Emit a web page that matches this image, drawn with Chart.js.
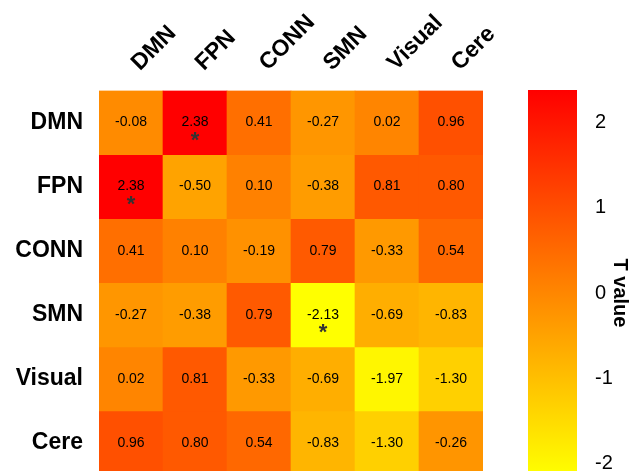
<!DOCTYPE html>
<html><head><meta charset="utf-8">
<script src="https://cdn.jsdelivr.net/npm/chart.js@4/dist/chart.umd.min.js"></script>
<style>
html,body{margin:0;padding:0;width:632px;height:471px;overflow:hidden;background:#fff}
#wrap{position:relative;width:632px;height:497px}
canvas{position:absolute;left:0;top:0}
</style></head><body>
<div id="wrap"><canvas id="heat" width="632" height="497"></canvas><canvas id="bar" width="632" height="497"></canvas></div>
<script>
const networks = ['DMN', 'FPN', 'CONN', 'SMN', 'Visual', 'Cere'];
const rowDMN    = [-0.08,  2.38,  0.41, -0.27,  0.02,  0.96];
const rowFPN    = [ 2.38, -0.50,  0.10, -0.38,  0.81,  0.80];
const rowCONN   = [ 0.41,  0.10, -0.19,  0.79, -0.33,  0.54];
const rowSMN    = [-0.27, -0.38,  0.79, -2.13, -0.69, -0.83];
const rowVisual = [ 0.02,  0.81, -0.33, -0.69, -1.97, -1.30];
const rowCere   = [ 0.96,  0.80,  0.54, -0.83, -1.30, -0.26];
const significant = [[0, 1], [1, 0], [3, 3]];   // [row, col]
const colorbarTicks = [-2, -1, 0, 1, 2];
const colorbarLabel = 'T value';

const rows = [rowDMN, rowFPN, rowCONN, rowSMN, rowVisual, rowCere];
const allVals = rows.flat();
const cmin = Math.min(...allVals);
const cmax = Math.max(...allVals);

function colorFor(v) {
  const t = (v - cmin) / (cmax - cmin);          // 0 = yellow, 1 = red (autumn)
  const g = Math.round(255 * (1 - t));
  return `rgb(255,${g},0)`;
}

Chart.defaults.font.family = "'Liberation Sans', Arial, sans-serif";
Chart.defaults.color = '#000';

const cellText = {
  id: 'cellText',
  afterDatasetsDraw(chart) {
    const ctx = chart.ctx;
    ctx.save();
    ctx.textAlign = 'center';
    ctx.textBaseline = 'middle';
    chart.data.datasets.forEach((ds, i) => {
      const meta = chart.getDatasetMeta(i);
      meta.data.forEach((bar, j) => {
        const cx = bar.x;
        const cy = (bar.y + bar.base) / 2;
        ctx.fillStyle = '#000';
        ctx.font = "14px 'Liberation Sans', Arial, sans-serif";
        ctx.fillText(rows[i][j].toFixed(2), cx, cy);
        if (significant.some(([r, c]) => r === i && c === j)) {
          ctx.fillStyle = '#333';
          ctx.font = "bold 22px 'Liberation Sans', Arial, sans-serif";
          ctx.fillText('*', cx, cy + 18);
        }
      });
    });
    ctx.restore();
  }
};

new Chart(document.getElementById('heat'), {
  type: 'bar',
  data: {
    labels: networks,
    datasets: rows.map((vals, i) => ({
      label: networks[i],
      data: vals.map(() => [i, i + 1]),
      backgroundColor: vals.map(colorFor),
      borderWidth: 0,
      grouped: false,
      barPercentage: 1,
      categoryPercentage: 1
    }))
  },
  options: {
    responsive: false,
    animation: false,
    layout: { padding: { left: 0, top: 0, right: 149, bottom: 22 } },
    plugins: { legend: { display: false }, tooltip: { enabled: false } },
    scales: {
      x: {
        type: 'category',
        position: 'top',
        offset: true,
        grid: { display: false, drawTicks: false, tickLength: 0 },
        border: { display: false },
        ticks: { minRotation: 45, maxRotation: 45, autoSkip: false, padding: 14, labelOffset: 24,
                 font: { size: 23, weight: 'bold' }, color: '#000' },
        afterFit: s => { s.height = 90.5; s.paddingLeft = 0; s.paddingRight = 0; }
      },
      y: {
        type: 'linear',
        min: 0, max: networks.length,
        reverse: true,
        grid: { display: false, drawTicks: false, tickLength: 0 },
        border: { display: false },
        afterBuildTicks: s => { s.ticks = networks.map((_, i) => ({ value: i + 0.5 })); },
        ticks: { padding: 16, font: { size: 23, weight: 'bold' }, color: '#000',
                 callback: v => networks[Math.floor(v)] },
        afterFit: s => { s.width = 99; s.paddingTop = 0; s.paddingBottom = 0; }
      }
    }
  },
  plugins: [cellText]
});

new Chart(document.getElementById('bar'), {
  type: 'bar',
  data: {
    labels: [colorbarLabel],
    datasets: [{
      data: [[cmin, cmax]],
      borderWidth: 0,
      barPercentage: 1,
      categoryPercentage: 1,
      backgroundColor: (c) => {
        const ch = c.chart;
        const ys = ch.scales.y;
        if (!ys || !ch.chartArea) return colorFor(0);
        const g = ch.ctx.createLinearGradient(0, ys.getPixelForValue(cmin), 0, ys.getPixelForValue(cmax));
        g.addColorStop(0, colorFor(cmin));
        g.addColorStop(1, colorFor(cmax));
        return g;
      }
    }]
  },
  options: {
    responsive: false,
    animation: false,
    layout: { padding: { left: 528, top: 90, right: 0, bottom: 1 } },
    plugins: { legend: { display: false }, tooltip: { enabled: false } },
    scales: {
      x: { display: false, offset: true },
      y: {
        position: 'right',
        min: -cmax, max: cmax,
        grid: { display: false, drawTicks: false, tickLength: 0 },
        border: { display: false },
        afterBuildTicks: s => { s.ticks = colorbarTicks.map(v => ({ value: v })); },
        ticks: { padding: 18, font: { size: 20 }, color: '#000' },
        title: { display: true, text: colorbarLabel, font: { size: 20, weight: 'bold' }, color: '#000', padding: 0 },
        afterFit: s => { s.width = 55; s.paddingTop = 0; s.paddingBottom = 0; }
      }
    }
  }
});
</script>
</body></html>
